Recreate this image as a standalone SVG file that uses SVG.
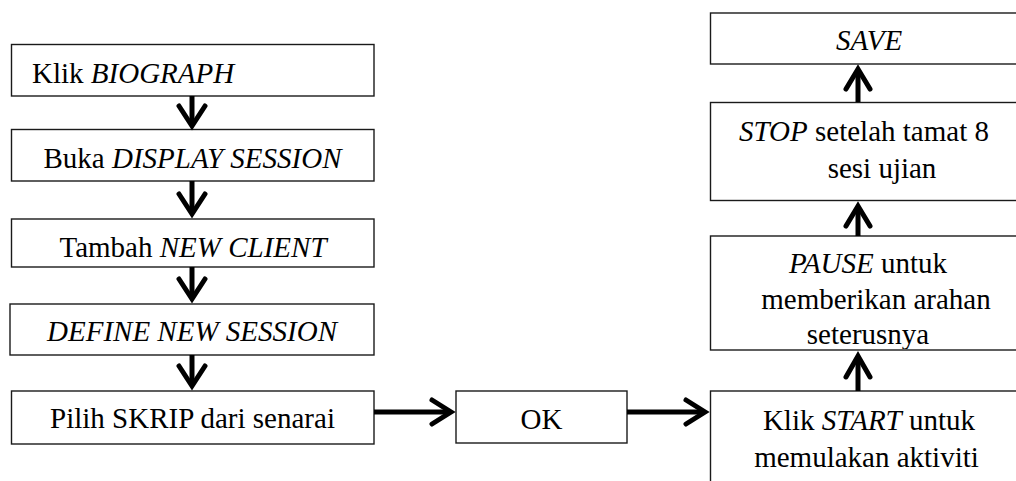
<svg xmlns="http://www.w3.org/2000/svg" width="1016" height="481" viewBox="0 0 1016 481">
<style>
.box{fill:#fff;stroke:#1a1a1a;stroke-width:1.4}
text{font-family:'Liberation Serif','DejaVu Serif','Times New Roman',serif;font-size:29px;fill:#000}
.m{text-anchor:middle}
.i{font-style:italic}
.ar{fill:none;stroke:#000;stroke-width:5;stroke-linejoin:miter;stroke-linecap:round}
.sh{fill:none;stroke:#000;stroke-width:5}
</style>
<defs>
<clipPath id="pclip"><rect x="700" y="230" width="330" height="119"/></clipPath>
</defs>
<rect width="1016" height="481" fill="#fff"/>

<g id="n1"><rect class="box" x="11.5" y="44.5" width="362.5" height="51.5"/>
<text font-family="Liberation Serif, serif" x="32" y="83">Klik <tspan class="i">BIOGRAPH</tspan></text></g>
<g id="n2"><rect class="box" x="11.5" y="129.5" width="362.5" height="51.5"/>
<text class="m" x="192.5" y="168">Buka <tspan class="i">DISPLAY SESSION</tspan></text></g>
<g id="n3"><rect class="box" x="11.5" y="219" width="362.5" height="48"/>
<text class="m" x="193" y="256.5">Tambah <tspan class="i">NEW CLIENT</tspan></text></g>
<g id="n4"><rect class="box" x="10" y="304" width="364" height="51"/>
<text class="m i" x="192" y="340.5">DEFINE NEW SESSION</text></g>
<g id="n5"><rect class="box" x="11.5" y="391" width="362.5" height="53"/>
<text class="m" x="192.5" y="428">Pilih SKRIP dari senarai</text></g>
<g id="ok"><rect class="box" x="456" y="391" width="171" height="52"/>
<text class="m" x="541.5" y="429">OK</text></g>
<g id="start"><rect class="box" x="710.5" y="391" width="320" height="100"/>
<text class="m" x="869" y="430">Klik <tspan class="i">START</tspan> untuk</text>
<text class="m" x="866.5" y="466.5">memulakan aktiviti</text></g>
<g id="pause"><rect class="box" x="710.5" y="236" width="320" height="114"/>
<text class="m" x="868" y="273"><tspan class="i">PAUSE</tspan> untuk</text>
<text class="m" x="876" y="309">memberikan arahan</text>
<text class="m" x="868" y="344" clip-path="url(#pclip)">seterusnya</text></g>
<g id="stop"><rect class="box" x="710.5" y="102.5" width="320" height="98"/>
<text class="m" x="864" y="140.5"><tspan class="i">STOP</tspan> setelah tamat 8</text>
<text class="m" x="882" y="177.5">sesi ujian</text></g>
<g id="save"><rect class="box" x="710.5" y="13" width="320" height="51"/>
<text class="m i" x="869" y="50">SAVE</text></g>

<g id="connectors">
<path class="sh" d="M192 96V124"/><path class="ar" d="M179 106L192 126L205 106"/>
<path class="sh" d="M192 181V214"/><path class="ar" d="M179 194L192 214L205 194"/>
<path class="sh" d="M192 267V299"/><path class="ar" d="M179 279L192 299L205 279"/>
<path class="sh" d="M192 355V386"/><path class="ar" d="M179 366L192 386L205 366"/>
<path class="sh" d="M374 412H451"/><path class="ar" d="M432 400L451 412L432 424"/>
<path class="sh" d="M627 412H705"/><path class="ar" d="M686 400L705 412L686 424"/>
<path class="sh" d="M858 391V356"/><path class="ar" d="M846 377L858 356L870 377"/>
<path class="sh" d="M858 236V206"/><path class="ar" d="M846 226L858 206L870 226"/>
<path class="sh" d="M858 102V69"/><path class="ar" d="M846 89L858 69L870 89"/>
</g>
</svg>
